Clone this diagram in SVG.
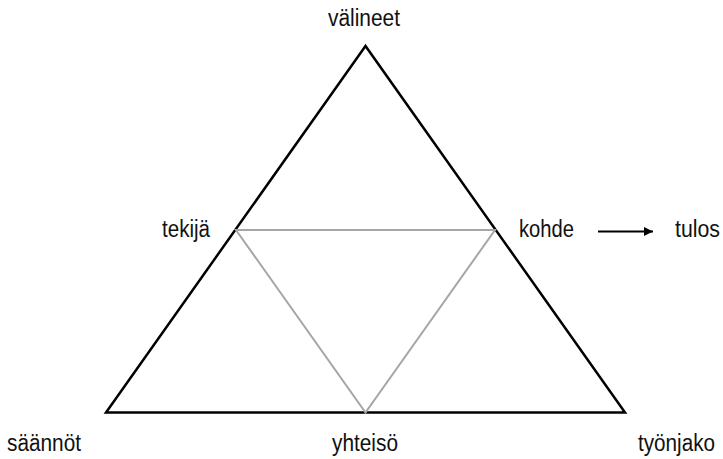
<svg xmlns="http://www.w3.org/2000/svg" width="723" height="459" viewBox="0 0 723 459">
<style>
text{font-family:"Liberation Sans",Arial,sans-serif;font-size:21px;fill:#111}
.outer{fill:none;stroke:#000;stroke-width:2.5;stroke-linejoin:miter}
.inner{fill:none;stroke:#a6a6a6;stroke-width:2}
.arr{stroke:#000;stroke-width:2}
</style>
<defs>
<marker id="ah" viewBox="0 0 10 10" refX="10" refY="5" markerWidth="4.5" markerHeight="4.5" orient="auto" markerUnits="strokeWidth">
<path d="M0,0 L10,5 L0,10 z" fill="#000"/>
</marker>
</defs>
<g id="connectors">
<polygon class="outer" points="365.5,46 106,412.5 625,412.5"/>
<polygon class="inner" points="236,230 495,230 365.5,412.5"/>
<line class="arr" x1="598" y1="231.5" x2="653" y2="231.5" marker-end="url(#ah)"/>
</g>
<g id="valineet"><text transform="translate(328,26) scale(1,1.14)" textLength="72" lengthAdjust="spacingAndGlyphs">välineet</text></g>
<g id="tekija"><text transform="translate(162,237) scale(1,1.14)" textLength="48" lengthAdjust="spacingAndGlyphs">tekijä</text></g>
<g id="kohde"><text transform="translate(519,237) scale(1,1.14)" textLength="55" lengthAdjust="spacingAndGlyphs">kohde</text></g>
<g id="tulos"><text transform="translate(675,237) scale(1,1.14)" textLength="45" lengthAdjust="spacingAndGlyphs">tulos</text></g>
<g id="saannot"><text transform="translate(7,451) scale(1,1.14)" textLength="74" lengthAdjust="spacingAndGlyphs">säännöt</text></g>
<g id="yhteiso"><text transform="translate(332,451) scale(1,1.14)" textLength="66" lengthAdjust="spacingAndGlyphs">yhteisö</text></g>
<g id="tyonjako"><text transform="translate(638,451) scale(1,1.14)" textLength="77" lengthAdjust="spacingAndGlyphs">työnjako</text></g>
</svg>
